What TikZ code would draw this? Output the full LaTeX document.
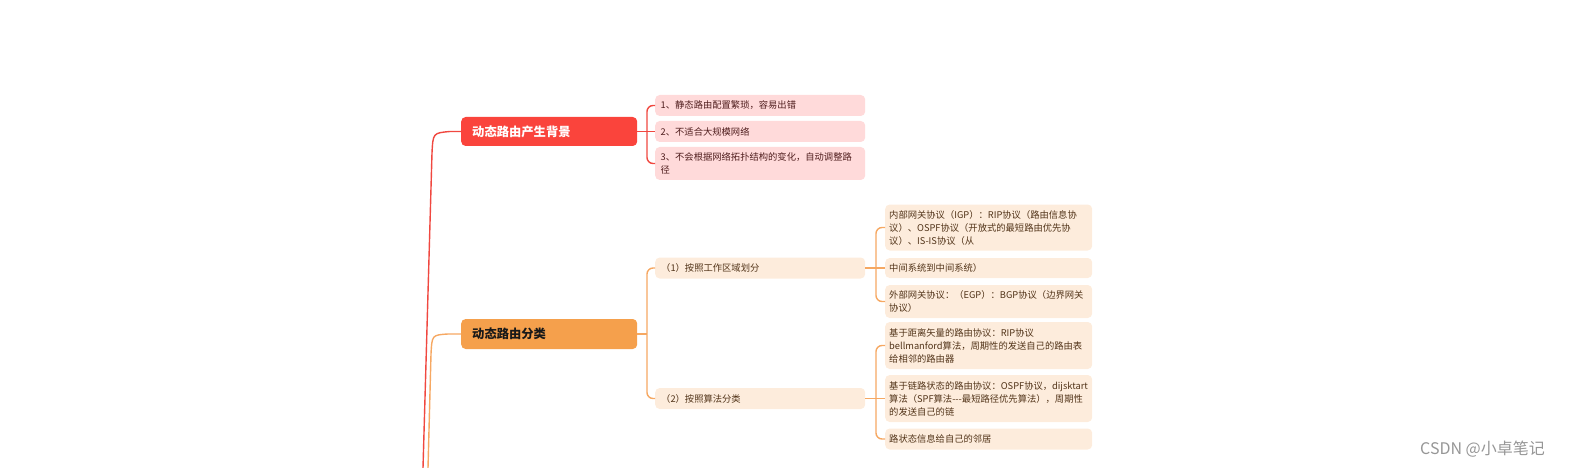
\documentclass[tikz,border=0pt]{standalone}
\usepackage{fontspec}
\newfontfamily\cjk{Noto Sans CJK SC}
\definecolor{mred}{RGB}{250,68,60}
\definecolor{mora}{RGB}{245,160,76}
\definecolor{lred}{RGB}{255,218,218}
\definecolor{lora}{RGB}{253,236,220}
\definecolor{redline}{RGB}{240,72,64}
\definecolor{oraline}{RGB}{246,168,98}
\definecolor{rtext}{RGB}{80,30,30}
\definecolor{otext}{RGB}{82,52,25}
\definecolor{wm}{RGB}{150,150,150}
\tikzset{
  box/.style={rounded corners=4.5pt, anchor=west, inner ysep=0pt, align=left,
    font=\cjk\fontsize{9.3}{13}\selectfont},
  mainred/.style={box, fill=mred, text=white, inner xsep=11pt, text width=154pt, minimum height=29pt,
    font=\cjk\bfseries\fontsize{12.3}{14}\selectfont},
  mainora/.style={box, fill=mora, text=black!90, inner xsep=11pt, text width=154pt, minimum height=30pt,
    font=\cjk\bfseries\fontsize{12.3}{14}\selectfont},
  redbox/.style={box, fill=lred, text=rtext, inner xsep=5.5pt, text width=199pt},
  orabox/.style={box, fill=lora, text=otext, inner xsep=6pt, text width=198pt},
  leafbox/.style={box, fill=lora, text=otext, inner xsep=4pt, text width=199pt},
  rline/.style={draw=redline, line width=1.4pt},
  oline/.style={draw=oraline, line width=1.4pt},
  bracket/.style={rounded corners=6pt}
}
\begin{document}
\begin{tikzpicture}[x=1pt,y=-1pt]
\useasboundingbox (0,0) rectangle (1572,468);
% main nodes
\node[mainred] (M1) at (461,131.5) {动态路由产生背景};
\node[mainora] (M2) at (461,334) {动态路由分类};
% red children
\node[redbox, minimum height=21pt] (R1) at (655,105.5) {1、静态路由配置繁琐，容易出错};
\node[redbox, minimum height=21pt] (R2) at (655,131.5) {2、不适合大规模网络};
\node[redbox, minimum height=33pt] (R3) at (655,163.5) {3、不会根据网络拓扑结构的变化，自动调整路\\径};
% orange level 2
\node[orabox, minimum height=21pt] (O1) at (655,268) {（1）按照工作区域划分};
\node[orabox, minimum height=21pt] (O2) at (655,398.5) {（2）按照算法分类};
% orange level 3
\node[leafbox, minimum height=46pt] (A) at (885,227.5) {内部网关协议（IGP）：RIP协议（路由信息协\\议）、OSPF协议（开放式的最短路由优先协\\议）、IS-IS协议（从};
\node[leafbox, minimum height=20pt] (B) at (885,268) {中间系统到中间系统）};
\node[leafbox, minimum height=33pt] (C) at (885,301.5) {外部网关协议：（EGP）：BGP协议（边界网关\\协议）};
\node[leafbox, minimum height=47pt] (D) at (885,345.5) {基于距离矢量的路由协议：RIP协议\\bellmanford算法，周期性的发送自己的路由表\\给相邻的路由器};
\node[leafbox, minimum height=47pt] (E) at (885,398.5) {基于链路状态的路由协议：OSPF协议，dijsktart\\算法（SPF算法---最短路径优先算法），周期性\\的发送自己的链};
\node[leafbox, minimum height=21pt] (F) at (885,439) {路状态信息给自己的邻居};
% trunk
\coordinate (rbot) at (423,468);
\coordinate (obot) at (428,468);
\draw[rline] (rbot) -- (432,153) .. controls (433,133) .. (450,131.5) -- (M1.west);
\draw[oline] (obot) -- (431,354) .. controls (432,335) .. (448,334) -- (M2.west);
% red bracket
\coordinate (rj) at (647,131.5);
\draw[rline] (M1.east) -- (R2.west);
\draw[rline, bracket] (R1.west) -| (rj) |- (R3.west);
% orange bracket
\coordinate (oj) at (647,334);
\draw[oline] (M2.east) -- (oj);
\draw[oline, bracket] (O1.west) -| (oj) |- (O2.west);
\coordinate (oj1) at (876,268);
\draw[oline] (O1.east) -- (B.west);
\draw[oline, bracket] (A.west) -| (oj1) |- (C.west);
\coordinate (oj2) at (876,398.5);
\draw[oline] (O2.east) -- (E.west);
\draw[oline, bracket] (D.west) -| (oj2) |- (F.west);
% watermark
\node[anchor=west, inner sep=0pt, text=wm, font=\cjk\fontsize{16}{18}\selectfont] (wm) at (1420,449) {CSDN @小卓笔记};
\end{tikzpicture}
\end{document}
